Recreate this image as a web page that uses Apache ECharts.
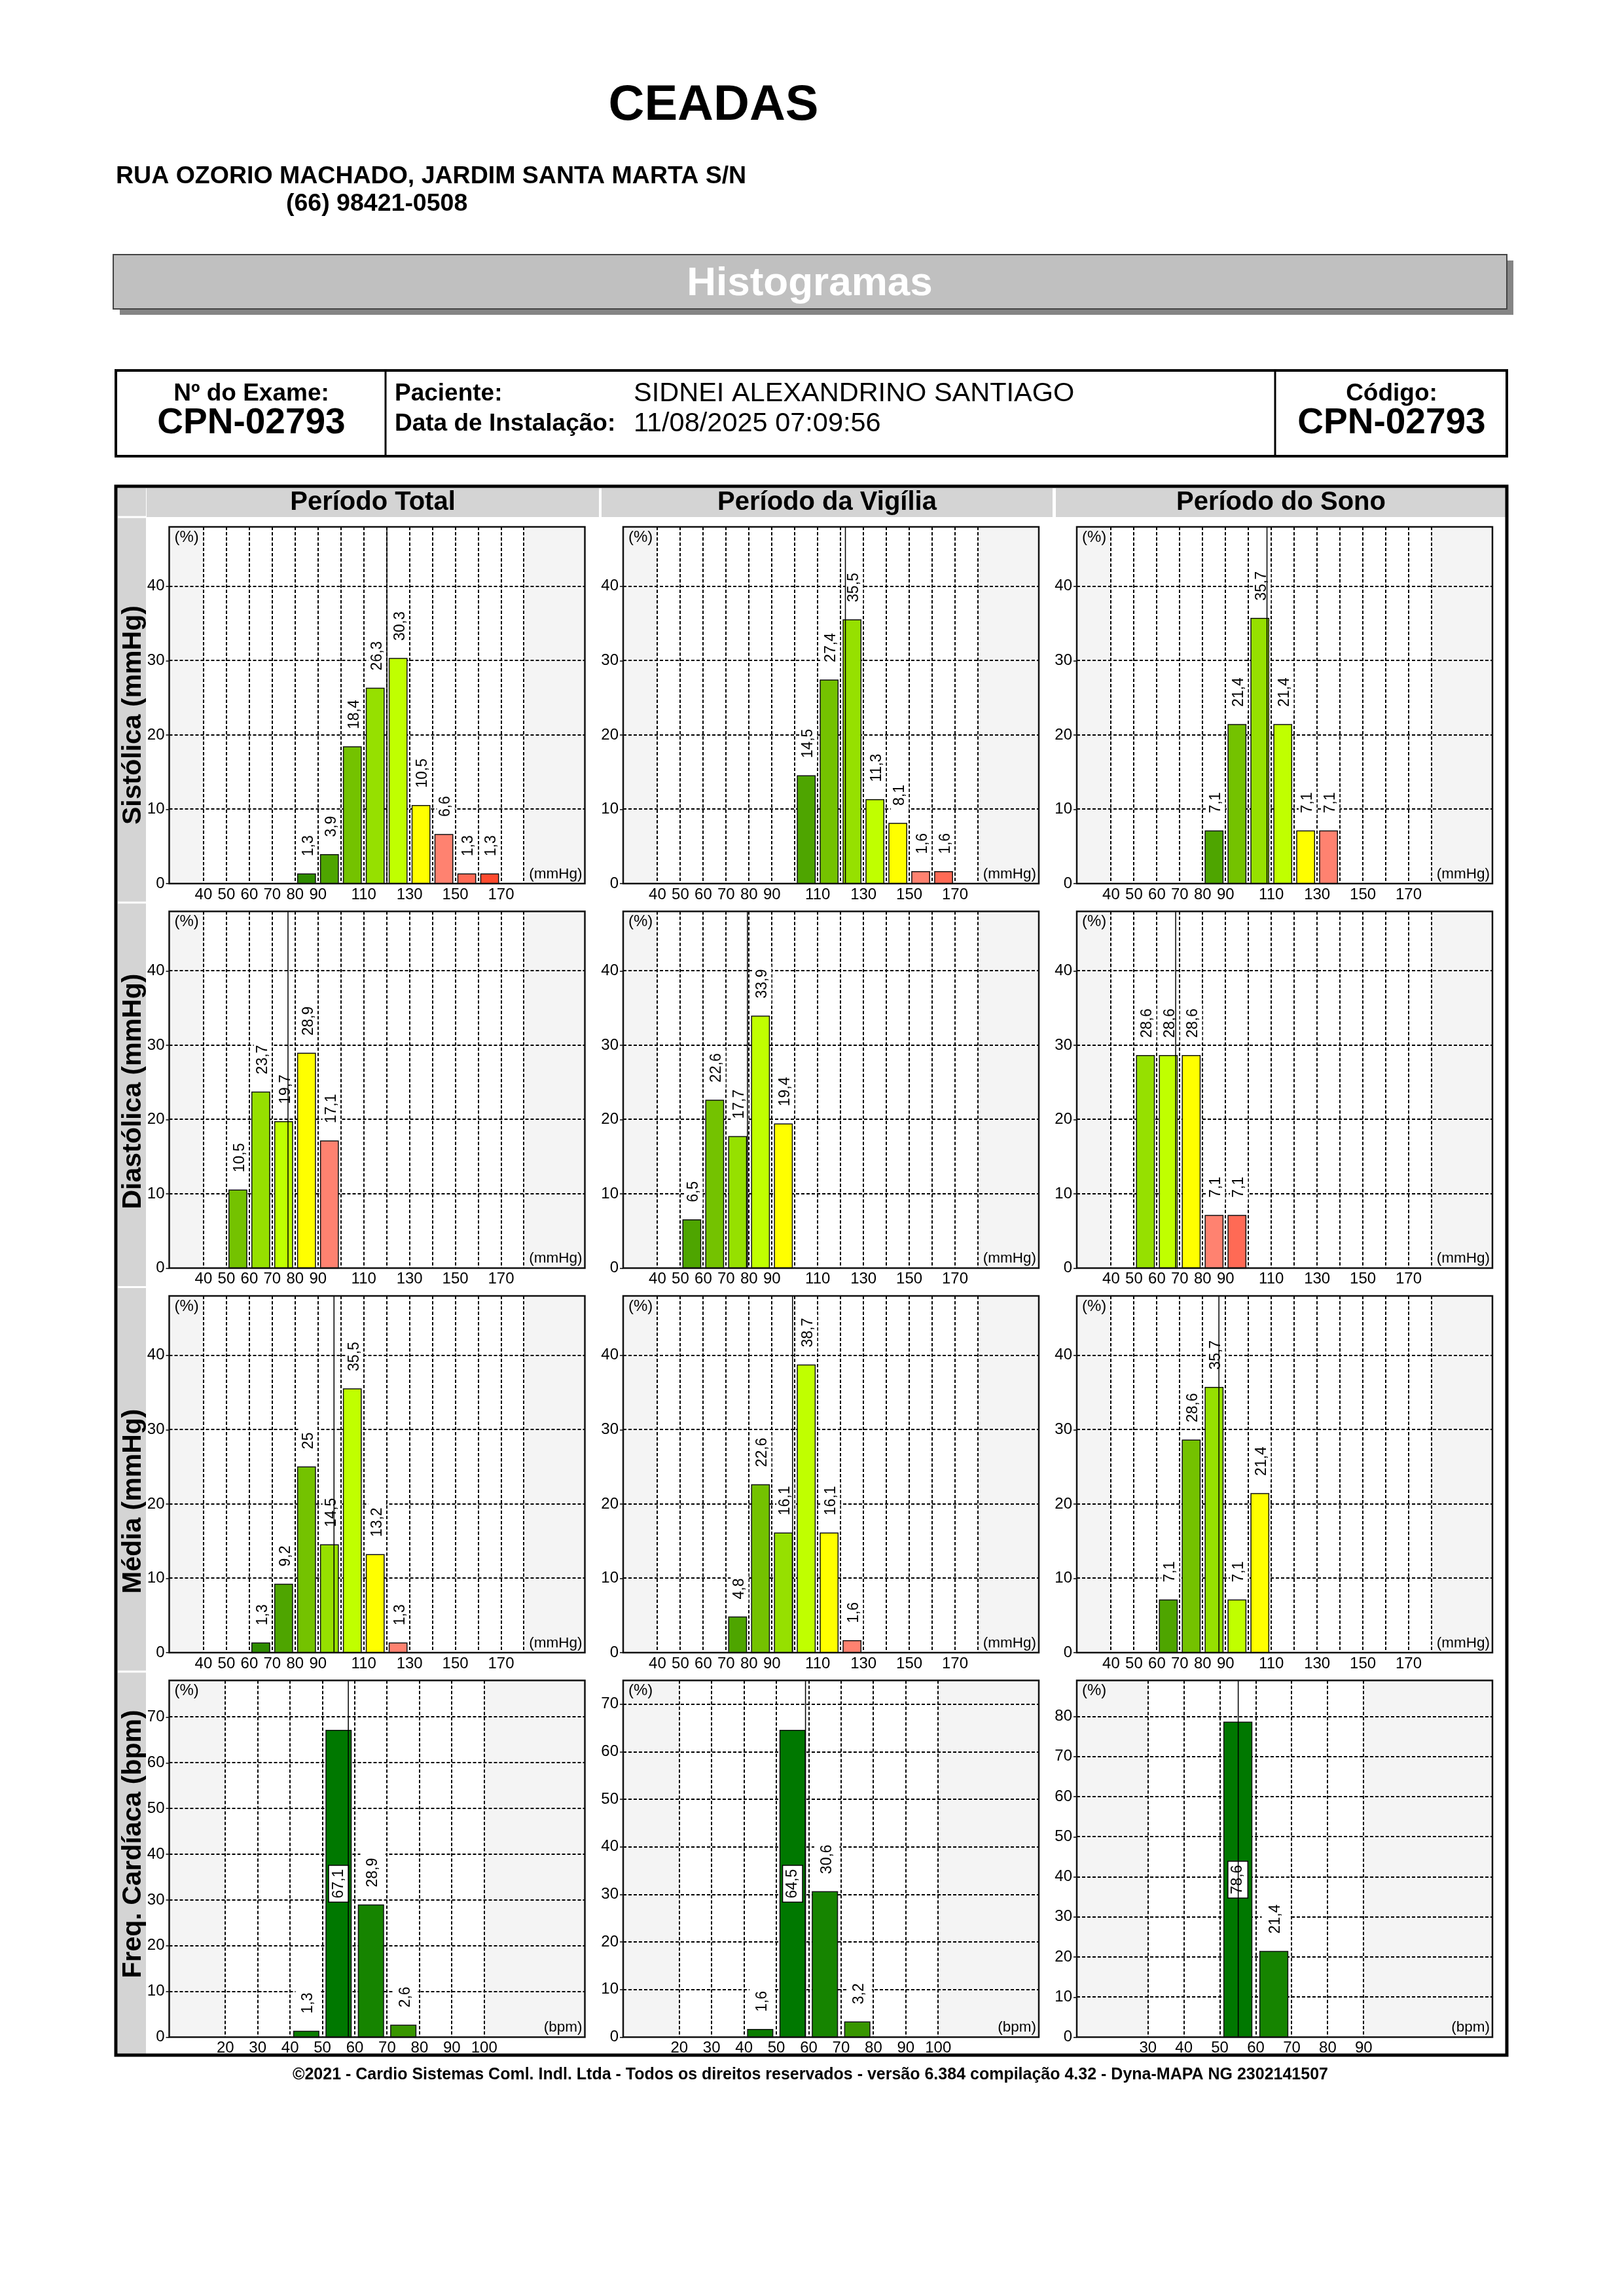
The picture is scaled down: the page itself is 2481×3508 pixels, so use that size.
<!DOCTYPE html>
<html>
<head>
<meta charset="utf-8">
<script src="https://cdn.jsdelivr.net/npm/echarts@6/dist/echarts.min.js"></script>
<style>
html,body{margin:0;padding:0;background:#fff;}
#c{width:2481px;height:3508px;}
</style>
</head>
<body>
<div id="c"></div>
<script>
// ------------------------- DATA -------------------------
// Sistólica (mmHg) — bin start (10 mmHg wide) and percentage
const sysTotalBins = [80, 90, 100, 110, 120, 130, 140, 150, 160];
const sysTotalPct  = [1.3, 3.9, 18.4, 26.3, 30.3, 10.5, 6.6, 1.3, 1.3];
const sysVigBins   = [100, 110, 120, 130, 140, 150, 160];
const sysVigPct    = [14.5, 27.4, 35.5, 11.3, 8.1, 1.6, 1.6];
const sysSonoBins  = [80, 90, 100, 110, 120, 130];
const sysSonoPct   = [7.1, 21.4, 35.7, 21.4, 7.1, 7.1];
// Diastólica
const diaTotalBins = [50, 60, 70, 80, 90];
const diaTotalPct  = [10.5, 23.7, 19.7, 28.9, 17.1];
const diaVigBins   = [50, 60, 70, 80, 90];
const diaVigPct    = [6.5, 22.6, 17.7, 33.9, 19.4];
const diaSonoBins  = [50, 60, 70, 80, 90];
const diaSonoPct   = [28.6, 28.6, 28.6, 7.1, 7.1];
// Média
const medTotalBins = [60, 70, 80, 90, 100, 110, 120];
const medTotalPct  = [1.3, 9.2, 25, 14.5, 35.5, 13.2, 1.3];
const medVigBins   = [70, 80, 90, 100, 110, 120];
const medVigPct    = [4.8, 22.6, 16.1, 38.7, 16.1, 1.6];
const medSonoBins  = [60, 70, 80, 90, 100];
const medSonoPct   = [7.1, 28.6, 35.7, 7.1, 21.4];
// Freq. Cardíaca (bpm)
const fcTotalBins  = [40, 50, 60, 70];
const fcTotalPct   = [1.3, 67.1, 28.9, 2.6];
const fcVigBins    = [40, 50, 60, 70];
const fcVigPct     = [1.6, 64.5, 30.6, 3.2];
const fcSonoBins   = [50, 60];
const fcSonoPct    = [78.6, 21.4];
// mean (vertical reference line) per period: [Total, Vigília, Sono]
const sysMeans = [120.1, 122.1, 108.1];
const diaMeans = [76.9, 79.3, 68.2];
const medMeans = [97.0, 99.0, 87.1];
const fcMeans  = [58.0, 59.0, 55.1];
// axes
const bpRange        = [25, 206.6];
const bpBand         = [40, 180];
const bpGridTicks    = [40, 50, 60, 70, 80, 90, 100, 110, 120, 130, 140, 150, 160, 170, 180];
const bpTickLabels   = [40, 50, 60, 70, 80, 90, 110, 130, 150, 170];
const bpYTicks       = [0, 10, 20, 30, 40];
const bpYMax         = 48;
const fcRange        = [2.65, 131.1];
const fcBand         = [20, 100];
const fcGridTicks    = [20, 30, 40, 50, 60, 70, 80, 90, 100];
const fcTickLabels   = [20, 30, 40, 50, 60, 70, 80, 90, 100];
const fcYTicks       = [0, 10, 20, 30, 40, 50, 60, 70];
const fcSonoRange    = [10.2, 125.8];
const fcSonoBand     = [30, 90];
const fcSonoGridTicks= [30, 40, 50, 60, 70, 80, 90];
const fcSonoTickLabels=[30, 40, 50, 60, 70, 80, 90];
const fcSonoYTicks   = [0, 10, 20, 30, 40, 50, 60, 70, 80];
const fcYMax         = [78, 75, 89];
const binWidth = 10;

// text
const periodTitles = ['Período Total', 'Período da Vigília', 'Período do Sono'];
const rowTitles = ['Sistólica (mmHg)', 'Diastólica (mmHg)', 'Média (mmHg)', 'Freq. Cardíaca (bpm)'];

// ------------------------- STYLE / LAYOUT -------------------------
const FONT = "'Liberation Sans', Arial, Helvetica, sans-serif";
const BP_PALETTE = ['#2f8c00', '#4ea500', '#74c200', '#96e000', '#c0ff00', '#ffff00', '#ff8270', '#ff6a55', '#ff4a2e'];
const FC_PALETTE = ['#0a7d00', '#007800', '#168400', '#389600', '#4aa000'];
const colLeft = [258.5, 952, 1645];
const rowTop = [805, 1392.5, 1980, 2567.5];
const PW = 635, PH = 545;
const TICK_FS = 24, VAL_FS = 23;

const axisSpec = {
  bp:  {range: bpRange, band: bpBand, grid: bpGridTicks, labels: bpTickLabels, unit: '(mmHg)', palette: BP_PALETTE},
  fcT: {range: fcRange, band: fcBand, grid: fcGridTicks, labels: fcTickLabels, unit: '(bpm)', palette: FC_PALETTE},
  fcS: {range: fcSonoRange, band: fcSonoBand, grid: fcSonoGridTicks, labels: fcSonoTickLabels, unit: '(bpm)', palette: FC_PALETTE}
};

const panels = [
  {r:0, c:0, t:'bp', bins:sysTotalBins, pct:sysTotalPct, mean:sysMeans[0], ymax:bpYMax, yt:bpYTicks, cs:0},
  {r:0, c:1, t:'bp', bins:sysVigBins,   pct:sysVigPct,   mean:sysMeans[1], ymax:bpYMax, yt:bpYTicks, cs:1},
  {r:0, c:2, t:'bp', bins:sysSonoBins,  pct:sysSonoPct,  mean:sysMeans[2], ymax:bpYMax, yt:bpYTicks, cs:1},
  {r:1, c:0, t:'bp', bins:diaTotalBins, pct:diaTotalPct, mean:diaMeans[0], ymax:bpYMax, yt:bpYTicks, cs:2},
  {r:1, c:1, t:'bp', bins:diaVigBins,   pct:diaVigPct,   mean:diaMeans[1], ymax:bpYMax, yt:bpYTicks, cs:1},
  {r:1, c:2, t:'bp', bins:diaSonoBins,  pct:diaSonoPct,  mean:diaMeans[2], ymax:bpYMax, yt:bpYTicks, cs:3},
  {r:2, c:0, t:'bp', bins:medTotalBins, pct:medTotalPct, mean:medMeans[0], ymax:bpYMax, yt:bpYTicks, cs:0},
  {r:2, c:1, t:'bp', bins:medVigBins,   pct:medVigPct,   mean:medMeans[1], ymax:bpYMax, yt:bpYTicks, cs:1},
  {r:2, c:2, t:'bp', bins:medSonoBins,  pct:medSonoPct,  mean:medMeans[2], ymax:bpYMax, yt:bpYTicks, cs:1},
  {r:3, c:0, t:'fcT', bins:fcTotalBins, pct:fcTotalPct,  mean:fcMeans[0], ymax:fcYMax[0], yt:fcYTicks, cs:0},
  {r:3, c:1, t:'fcT', bins:fcVigBins,   pct:fcVigPct,    mean:fcMeans[1], ymax:fcYMax[1], yt:fcYTicks, cs:0},
  {r:3, c:2, t:'fcS', bins:fcSonoBins,  pct:fcSonoPct,   mean:fcMeans[2], ymax:fcYMax[2], yt:fcSonoYTicks, cs:1}
];

const grids = [], xAxes = [], yAxes = [], series = [];
const axisLabelBase = {color:'#000', fontSize:TICK_FS, fontFamily:FONT};

panels.forEach((p, i) => {
  const spec = axisSpec[p.t];
  grids.push({left: colLeft[p.c], top: rowTop[p.r], width: PW, height: PH,
    show: true, backgroundColor: '#f4f4f4', borderWidth: 0, containLabel: false, outerBoundsMode: 'none'});
  xAxes.push({gridIndex:i, type:'value', min: spec.range[0], max: spec.range[1],
    axisLine:{show:false}, axisTick:{show:false}, splitLine:{show:false},
    axisLabel: Object.assign({customValues: spec.labels, margin: 5, hideOverlap:false}, axisLabelBase)});
  yAxes.push({gridIndex:i, type:'value', min: 0, max: p.ymax,
    axisLine:{show:false}, splitLine:{show:false},
    axisTick:{show:true, inside:false, length:5, customValues: p.yt, lineStyle:{color:'#000', width:1.5}},
    axisLabel: Object.assign({customValues: p.yt, margin: 7}, axisLabelBase)});

  const common = {type:'custom', xAxisIndex:i, yAxisIndex:i, silent:true, animation:false, clip:false};

  // white (normal range) band
  series.push(Object.assign({}, common, {z:1, data:[[spec.band[0], spec.band[1]]],
    renderItem: (params, api) => {
      const cs = params.coordSys;
      const a = api.coord([api.value(0), 0])[0], b = api.coord([api.value(1), 0])[0];
      return {type:'rect', shape:{x:a, y:cs.y, width:b-a, height:cs.height}, style:{fill:'#ffffff'}};
    }}));
  // vertical dashed grid lines
  series.push(Object.assign({}, common, {z:2, data: spec.grid.map(v => [v, 0]),
    renderItem: (params, api) => {
      const cs = params.coordSys;
      const x = Math.round(api.coord([api.value(0), 0])[0]);
      return {type:'line', shape:{x1:x, y1:cs.y, x2:x, y2:cs.y+cs.height},
        style:{stroke:'#000', lineWidth:2, lineDash:[5,3]}};
    }}));
  // horizontal dashed grid lines
  series.push(Object.assign({}, common, {z:2, data: p.yt.filter(v => v > 0).map(v => [spec.range[0], v]),
    renderItem: (params, api) => {
      const cs = params.coordSys;
      const y = Math.round(api.coord([api.value(0), api.value(1)])[1]);
      return {type:'line', shape:{x1:cs.x, y1:y, x2:cs.x+cs.width, y2:y},
        style:{stroke:'#000', lineWidth:2, lineDash:[5,3]}};
    }}));
  // bars + labels
  series.push(Object.assign({}, common, {z:3, data: p.bins.map((b, k) => [b, p.pct[k]]),
    renderItem: (params, api) => {
      const cs = params.coordSys;
      const x0 = api.value(0), v = api.value(1);
      const tl = api.coord([x0 + binWidth*0.11, v]);
      const br = api.coord([x0 + binWidth*0.89, 0]);
      const bx = tl[0], by = tl[1], bw = br[0]-tl[0], bh = br[1]-tl[1];
      const color = spec.palette[p.cs + params.dataIndex];
      const txt = String(v).replace('.', ',');
      const fs = VAL_FS;
      const textLen = txt.length * 0.53 * fs;
      const cx = bx + bw/2;
      const children = [{type:'rect', shape:{x:bx, y:by, width:bw, height:bh},
        style:{fill:color, stroke:'#111', lineWidth:1.5}}];
      if (by - cs.y >= 27 + textLen + 10) {
        const pa = Math.max(2, (bw - fs)/2);
        children.push({type:'text', x: cx + 3, y: by - 20, rotation: Math.PI/2,
          style:{text:txt, font: fs + 'px ' + FONT, fill:'#000', align:'left', verticalAlign:'middle',
            textAlign:'left', textVerticalAlign:'middle', backgroundColor:'#ffffff', padding:[pa, 7, pa, 7]}});
      } else {
        children.push({type:'text', x: cx, y: by + bh/2, rotation: Math.PI/2,
          style:{text:txt, font: fs + 'px ' + FONT, fill:'#000', align:'center', verticalAlign:'middle',
            textAlign:'center', textVerticalAlign:'middle', backgroundColor:'#ffffff',
            borderColor:'#000', borderWidth:1.5, padding:[3, 5, 3, 5]}});
      }
      return {type:'group', children};
    }}));
  // mean line
  series.push(Object.assign({}, common, {z:4, data:[[p.mean, 0]],
    renderItem: (params, api) => {
      const cs = params.coordSys;
      const x = api.coord([api.value(0), 0])[0];
      return {type:'line', shape:{x1:x, y1:cs.y, x2:x, y2:cs.y+cs.height}, style:{stroke:'#000', lineWidth:1.5}};
    }}));
  // frame + unit texts
  series.push(Object.assign({}, common, {z:5, data:[[spec.range[0], 0]],
    renderItem: (params, api) => {
      const cs = params.coordSys;
      return {type:'group', children:[
        {type:'rect', shape:{x:cs.x, y:cs.y, width:cs.width, height:cs.height},
          style:{fill:'none', stroke:'#111', lineWidth:2.5}},
        {type:'text', x: cs.x + 8, y: cs.y + 4,
          style:{text:'(%)', font:'24px ' + FONT, fill:'#000', align:'left', verticalAlign:'top', textAlign:'left', textVerticalAlign:'top'}},
        {type:'text', x: cs.x + cs.width - 4, y: cs.y + cs.height - 3,
          style:{text:spec.unit, font:'22.5px ' + FONT, fill:'#000', align:'right', verticalAlign:'bottom', textAlign:'right', textVerticalAlign:'bottom'}}
      ]};
    }}));
});

// ------------------------- PAGE GRAPHICS -------------------------
function txt(x, y, s, font, align, extra) {
  return Object.assign({type:'text', x:x, y:y, z:10,
    style:{text:s, font:font, fill:'#000', align:align||'left', verticalAlign:'middle',
      textAlign:align||'left', textVerticalAlign:'middle'}}, extra||{});
}
const graphics = [];
graphics.push(txt(1090, 162, 'CEADAS', 'bold 76px ' + FONT, 'center'));
graphics.push(txt(177, 270, 'RUA OZORIO MACHADO, JARDIM SANTA MARTA S/N', 'bold 37.5px ' + FONT, 'left'));
graphics.push(txt(437, 312, '(66) 98421-0508', 'bold 37.5px ' + FONT, 'left'));
// banner
graphics.push({type:'rect', z:1, shape:{x:183, y:398, width:2129, height:83}, style:{fill:'#858585'}});
graphics.push({type:'rect', z:2, shape:{x:173, y:389, width:2129, height:83}, style:{fill:'#c0c0c0', stroke:'#444', lineWidth:2}});
graphics.push({type:'text', x:1237, y:434, z:10, style:{text:'Histogramas', font:'bold 62px ' + FONT, fill:'#ffffff',
  align:'center', verticalAlign:'middle', textAlign:'center', textVerticalAlign:'middle',
  textShadowColor:'#222', textShadowOffsetX:3, textShadowOffsetY:3, textShadowBlur:0}});
// info box
graphics.push({type:'rect', z:2, shape:{x:177, y:566, width:2125, height:131}, style:{fill:'#fff', stroke:'#000', lineWidth:4}});
graphics.push({type:'line', z:3, shape:{x1:589, y1:566, x2:589, y2:697}, style:{stroke:'#000', lineWidth:3}});
graphics.push({type:'line', z:3, shape:{x1:1948, y1:566, x2:1948, y2:697}, style:{stroke:'#000', lineWidth:3}});
graphics.push(txt(384, 602, 'Nº do Exame:', 'bold 37px ' + FONT, 'center'));
graphics.push(txt(384, 647, 'CPN-02793', 'bold 55px ' + FONT, 'center'));
graphics.push(txt(603, 602, 'Paciente:', 'bold 37px ' + FONT, 'left'));
graphics.push(txt(968, 602, 'SIDNEI ALEXANDRINO SANTIAGO', '41.5px ' + FONT, 'left'));
graphics.push(txt(603, 648, 'Data de Instalação:', 'bold 37px ' + FONT, 'left'));
graphics.push(txt(968, 648, '11/08/2025 07:09:56', '41.5px ' + FONT, 'left'));
graphics.push(txt(2126, 602, 'Código:', 'bold 37px ' + FONT, 'center'));
graphics.push(txt(2126, 647, 'CPN-02793', 'bold 55px ' + FONT, 'center'));
// main box, headers, left strip
graphics.push({type:'rect', z:1, shape:{x:180, y:746, width:43, height:2393}, style:{fill:'#d4d4d4'}});
[[224, 691], [919, 689], [1613, 688]].forEach((h, k) => {
  graphics.push({type:'rect', z:1, shape:{x:h[0], y:746, width:h[1], height:44}, style:{fill:'#d4d4d4'}});
  graphics.push(txt(h[0] + h[1]/2, 768, periodTitles[k], 'bold 40px ' + FONT, 'center'));
});
[790, 1379, 1966.5, 2554].forEach(y => {
  graphics.push({type:'line', z:2, shape:{x1:180, y1:y, x2:223, y2:y}, style:{stroke:'#ffffff', lineWidth:3}});
});
rowTitles.forEach((t, r) => {
  graphics.push({type:'text', x:204, y:rowTop[r] + PH - 90, rotation:Math.PI/2, z:10,
    style:{text:t, font:'bold 41px ' + FONT, fill:'#000', align:'left', verticalAlign:'middle', textAlign:'left', textVerticalAlign:'middle'}});
});
graphics.push({type:'rect', z:11, shape:{x:177, y:743, width:2125, height:2397}, style:{fill:'none', stroke:'#000', lineWidth:5}});
graphics.push(txt(1238, 3170, '©2021 - Cardio Sistemas Coml. Indl. Ltda - Todos os direitos reservados - versão 6.384 compilação 4.32 - Dyna-MAPA NG 2302141507', 'bold 25px ' + FONT, 'center'));

const chart = echarts.init(document.getElementById('c'), null, {renderer:'canvas', width:2481, height:3508});
chart.setOption({
  backgroundColor:'#ffffff',
  animation:false,
  textStyle:{fontFamily:FONT},
  grid: grids,
  xAxis: xAxes,
  yAxis: yAxes,
  series: series,
  graphic: {elements: graphics}
});
</script>
</body>
</html>
